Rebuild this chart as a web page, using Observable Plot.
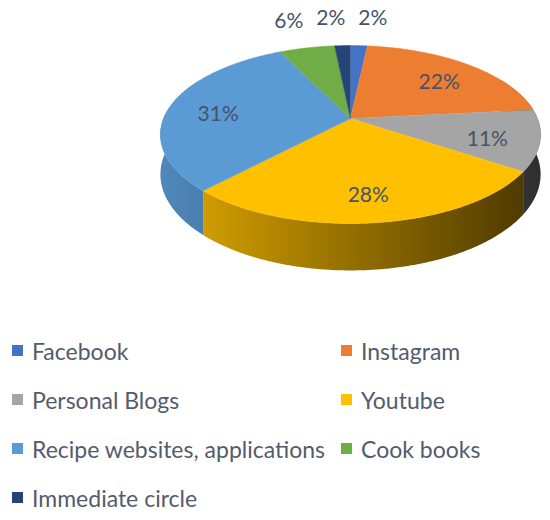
<!DOCTYPE html>
<html>
<head>
<meta charset="utf-8">
<script src="https://cdn.jsdelivr.net/npm/d3@7"></script>
<script src="https://cdn.jsdelivr.net/npm/@observablehq/plot@0.6"></script>
<style>
  html, body { margin: 0; padding: 0; background: #fff; }
  #chart { width: 550px; height: 520px; position: relative; overflow: hidden; }
  #legend { display: grid; grid-template-columns: 329px auto; grid-auto-rows: 49px;
            padding-left: 12px; margin-top: 26px; font-family: Lato, sans-serif; font-size: 23px; color: #535b6c; }
  .item { display: flex; align-items: center; gap: 9px; white-space: nowrap; }
  .sw { width: 11px; height: 11px; flex: none; }
</style>
</head>
<body>
<div id="chart"></div>
<script>
const categories = ["Facebook", "Instagram", "Personal Blogs", "Youtube", "Recipe websites, applications", "Cook books", "Immediate circle"];
const shares = [1.7, 21.7, 11.0, 27.6, 30.8, 5.6, 1.6];
const pctLabels = ["2%", "22%", "11%", "28%", "31%", "6%", "2%"];
const colors = ["#4472C4", "#ED7D31", "#A5A5A5", "#FFC000", "#5B9BD5", "#70AD47", "#264478"];

// simple perspective projection of a tilted cylinder
const K = 0.18, D = 0.447;
function proj(theta, r, depth) {
  const u = r * Math.sin(theta), v = r * Math.cos(theta), w = 1 + K * v;
  return {x: u / w, y: (v - D * depth) / w};
}
const total = d3.sum(shares);
const TAU = 2 * Math.PI;
let acc = 0;
const slices = shares.map((s, i) => {
  const a0 = acc / total * TAU; acc += s; const a1 = acc / total * TAU;
  return {i, a0, a1, name: categories[i], color: colors[i], label: pctLabels[i], share: s};
});

function shade(hex, f) {
  const c = d3.rgb(hex);
  return d3.rgb(c.r * f, c.g * f, c.b * f).formatHex();
}

// side walls: one band per slice, visible front part only
const walls = [];
for (const s of slices) {
  const lo = Math.max(s.a0, TAU * 0.17), hi = Math.min(s.a1, TAU * 0.83);
  if (hi <= lo) continue;
  const n = Math.max(3, Math.ceil((hi - lo) / (TAU / 720)));
  const top = [], bot = [];
  for (let j = 0; j <= n; j++) {
    const t = lo + (hi - lo) * j / n;
    top.push(proj(t, 1, 0)); bot.push(proj(t, 1, 1));
  }
  for (const p of top.concat(bot.reverse())) walls.push({id: "w" + s.i, x: p.x, y: p.y, c: `url(#wg${s.i})`});
}
// top faces
const tops = [];
for (const s of slices) {
  const n = Math.max(3, Math.ceil((s.a1 - s.a0) / (TAU / 720)));
  const c0 = proj(0, 0, 0);
  tops.push({id: "t" + s.i, x: c0.x, y: c0.y, c: s.color});
  for (let j = 0; j <= n; j++) {
    const p = proj(s.a0 + (s.a1 - s.a0) * j / n, 1, 0);
    tops.push({id: "t" + s.i, x: p.x, y: p.y, c: s.color});
  }
}
// labels
const XPX = 187; // px per x unit
const labelPts = slices.map(s => {
  const outside = s.share < 8;
  const p = outside ? proj((s.a0 + s.a1) / 2, 1.47, 0) : proj((s.a0 + s.a1) / 2, 0.73, 0.12);
  return {x: p.x, y: p.y, text: s.label, outside};
});
// spread outside labels so they do not collide
const outs = labelPts.filter(d => d.outside).sort((a, b) => a.x - b.x);
const minSep = 42 / XPX;
for (let it = 0; it < 50; it++) {
  for (let j = 0; j < outs.length - 1; j++) {
    const gap = outs[j + 1].x - outs[j].x;
    if (gap < minSep) { const m = (minSep - gap) / 2; outs[j].x -= m; outs[j + 1].x += m; }
  }
}

const plot = Plot.plot({
  width: 550, height: 300,
  margin: 0,
  x: {domain: [-1, 1], range: [350 - XPX, 350 + XPX], axis: null},
  y: {domain: [-1, 1], range: [204.1, 31.9], axis: null},
  color: {type: "identity"},
  marks: [
    Plot.line(walls, {x: "x", y: "y", z: "id", fill: "c"}),
    Plot.line(tops, {x: "x", y: "y", z: "id", fill: "c", stroke: "c", strokeWidth: 0.5}),
    Plot.text(labelPts, {x: "x", y: "y", text: "text", fill: "#44546A", fontSize: 21, fontFamily: "Lato, sans-serif"})
  ]
});
// horizontal lighting gradients for the side walls
const xs = plot.scale("x");
const defs = d3.select(plot).insert("defs", ":first-child");
slices.forEach(s => {
  const g = defs.append("linearGradient").attr("id", "wg" + s.i)
    .attr("gradientUnits", "userSpaceOnUse")
    .attr("x1", xs.apply(-1.02)).attr("x2", xs.apply(1.02)).attr("y1", 0).attr("y2", 0);
  for (let k = 0; k <= 10; k++) {
    const u = -1 + k / 5;
    g.append("stop").attr("offset", k / 10).attr("stop-color", shade(s.color, 0.58 - 0.3 * u));
  }
});
document.getElementById("chart").appendChild(plot);

const legend = document.createElement("div");
legend.id = "legend";
categories.forEach((c, i) => {
  const it = document.createElement("div");
  it.className = "item";
  const sw = document.createElement("span");
  sw.className = "sw"; sw.style.background = colors[i];
  const tx = document.createElement("span");
  tx.textContent = c;
  it.appendChild(sw); it.appendChild(tx);
  legend.appendChild(it);
});
document.getElementById("chart").appendChild(legend);
</script>
</body>
</html>
